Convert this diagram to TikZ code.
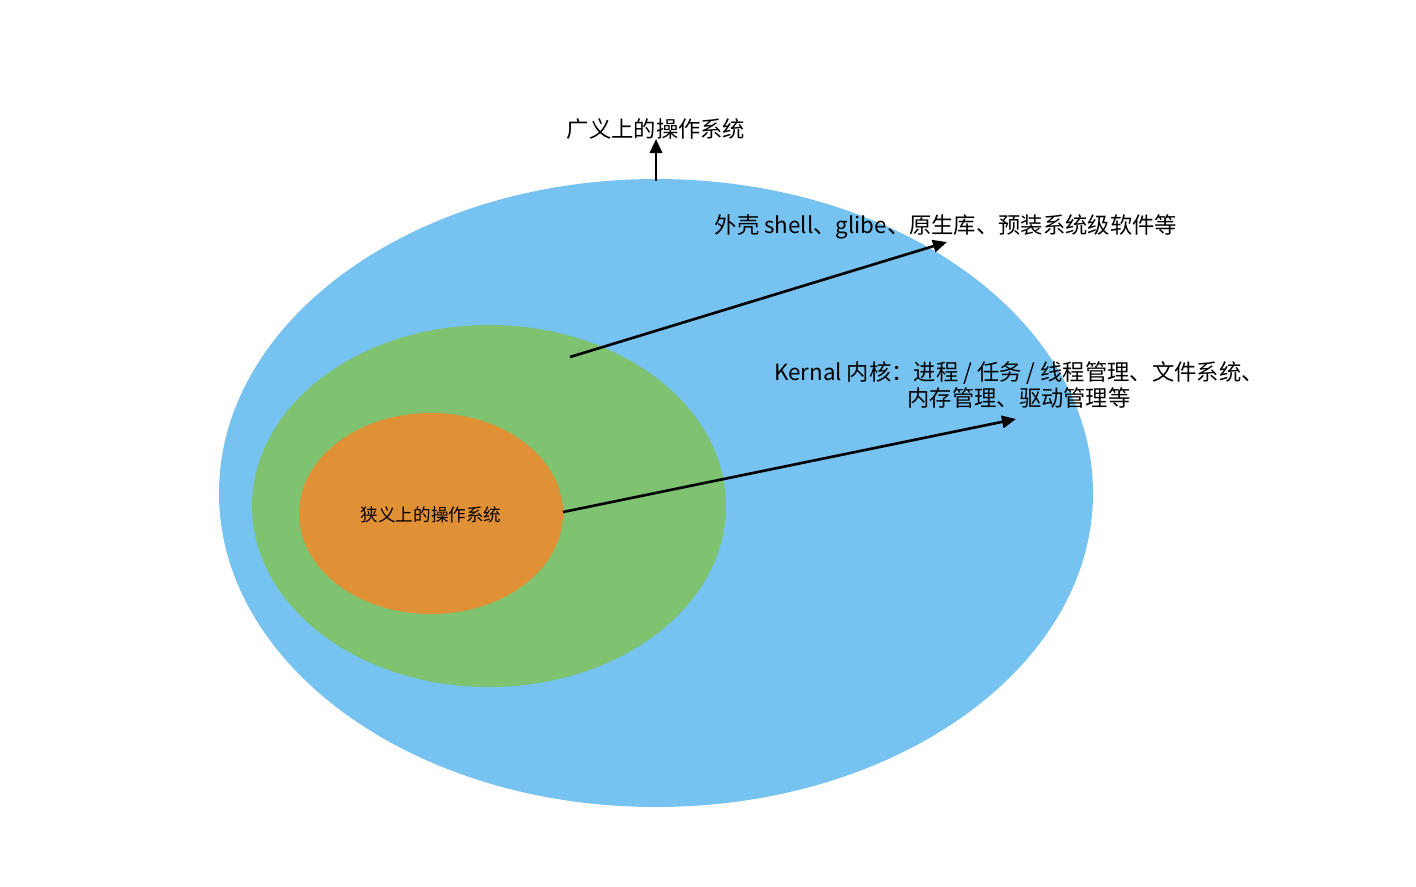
\documentclass[tikz,border=0pt]{standalone}
\usepackage{fontspec}
\setmainfont{Noto Sans CJK SC}
\usetikzlibrary{arrows.meta,shapes.geometric}
\definecolor{cblue}{RGB}{118,194,240}
\definecolor{cgreen}{RGB}{127,195,113}
\definecolor{corange}{RGB}{224,144,53}
\tikzset{
  px/.style={x=0.02cm,y=-0.02cm},
  conn/.style={line width=1.5pt,-{Triangle[length=8pt,width=7pt]}},
  lbl/.style={font=\fontsize{12.7}{14.4}\selectfont,inner sep=0pt,align=center},
}
\begin{document}
\begin{tikzpicture}[px]
\useasboundingbox (0,0) rectangle (1416,886);
\fill[cblue] (656,493) ellipse [x radius=437*0.02cm, y radius=314*0.02cm];
\fill[cgreen] (489,506) ellipse [x radius=237*0.02cm, y radius=181*0.02cm];
\fill[corange] (431,513.5) ellipse [x radius=132*0.02cm, y radius=100.5*0.02cm];
\coordinate (outerTop) at (656,181);
\coordinate (shellStart) at (570,357);
\coordinate (kernStart) at (563,512);
\node[lbl] (broad) at (656,129) {广义上的操作系统};
\node[lbl] (shell) at (946,227) {外壳 shell、glibe、原生库、预装系统级软件等};
\node[lbl] (kernel) at (1019,385) {Kernal 内核：进程 / 任务 / 线程管理、文件系统、\\内存管理、驱动管理等};
\node[font=\fontsize{10}{12}\selectfont,inner sep=0pt] (narrow) at (431,515) {狭义上的操作系统};
\coordinate (shellEnd) at (947,242);
\coordinate (kernEnd) at (1016,419);
\draw[conn] (outerTop) -- (broad.south |- 0,139);
\draw[conn] (shellStart) -- (shellEnd);
\draw[conn] (kernStart) -- (kernEnd);
\end{tikzpicture}
\end{document}
